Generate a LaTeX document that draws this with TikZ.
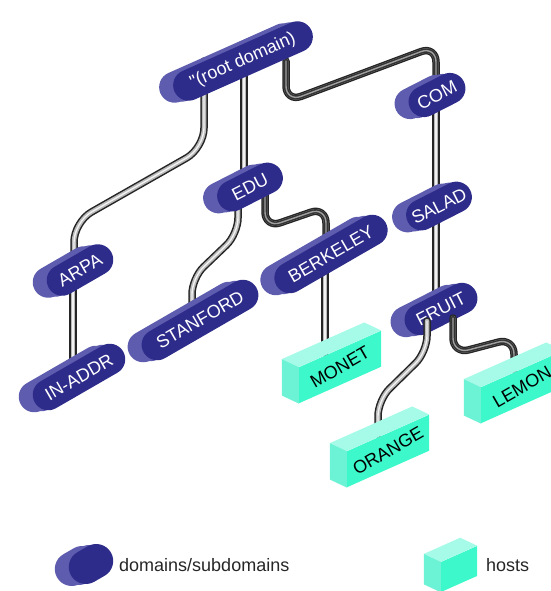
\documentclass[tikz,border=0pt]{standalone}
\usepackage{fontspec}
\newfontfamily\helv{Liberation Sans}
\usetikzlibrary{shapes.misc}
\pgfdeclarelayer{bg}\pgfdeclarelayer{front}\pgfdeclarelayer{top}
\pgfsetlayers{bg,main,front,top}
\definecolor{pillfront}{HTML}{2E2C8A}
\definecolor{pillside}{HTML}{5E5CAE}
\definecolor{hostfront}{HTML}{3CF8CA}
\definecolor{hostleft}{HTML}{6CF2D4}
\definecolor{hosttop}{HTML}{A6FBE8}
\tikzset{
 pill/.style={rounded rectangle, inner sep=0pt, minimum height=31pt, fill=pillfront, text=white,
   font=\helv\fontsize{18}{18}\selectfont,
   preaction={fill=pillside, transform canvas={shift={(-14,2)}}},
   preaction={fill=pillside, transform canvas={shift={(-7,1)}}}},
 hostface/.style={rectangle, inner sep=0pt, minimum width=82pt, minimum height=36pt, fill=hostfront,
   yslant=0.445},
 hostlabel/.style={rotate=30, inner sep=0pt, text=black, font=\helv\fontsize{18}{18}\selectfont},
 pipe/.style={line width=7.5pt, draw=black!85, line cap=round, line join=round, rounded corners=16pt,
   postaction={draw=gray!55, line width=4.5pt}, postaction={draw=white!90!gray, line width=1.4pt}},
 darkpipe/.style={pipe, postaction={draw=black!80, line width=4.5pt}, postaction={draw=gray!75, line width=1.4pt}},
 legendtext/.style={anchor=west, inner sep=0pt, text=black!85, font=\helv\fontsize{18}{18}\selectfont},
}
\newcommand\hostdepth[1]{%
 \fill[hosttop] (#1.north west) -- (#1.north east) -- ++(-17,-8) -- ([shift={(-17,-8)}]#1.north west) -- cycle;
 \fill[hostleft] (#1.north west) -- (#1.south west) -- ++(-17,-8) -- ([shift={(-17,-8)}]#1.north west) -- cycle;}
\begin{document}
\begin{tikzpicture}[x=1pt,y=-1pt]
\useasboundingbox (0,0) rectangle (550,591);
% domains
\node[pill, rotate=24, minimum width=150pt] (root) at (243,61) {"(root domain)};
\node[pill, rotate=27, minimum width=60pt] (com) at (437,95) {COM};
\node[pill, rotate=27, minimum width=70pt] (edu) at (250,187) {EDU};
\node[pill, rotate=27, minimum width=70pt] (salad) at (439,206) {SALAD};
\node[pill, rotate=30, minimum width=72pt] (arpa) at (80,270) {ARPA};
\node[pill, rotate=30, minimum width=126pt] (berkeley) at (331,254) {BERKELEY};
\node[pill, rotate=30, minimum width=130pt] (stanford) at (200,320) {STANFORD};
\node[pill, rotate=27, minimum width=78pt] (fruit) at (441,309) {FRUIT};
\node[pill, rotate=30, minimum width=102pt] (inaddr) at (79,377) {IN-ADDR};
\node[pill, rotate=30, minimum width=46pt, minimum height=34pt] (legpill) at (91,564) {};
% hosts
\begin{pgfonlayer}{top}
\node[hostface] (monet) at (340,367) {};
\hostdepth{monet}
\node[hostlabel] (monetlabel) at (monet.center) {MONET};
\node[hostface] (lemon) at (522,387) {};
\hostdepth{lemon}
\node[hostlabel] (lemonlabel) at (lemon.center) {LEMON};
\node[hostface] (orange) at (388,451) {};
\hostdepth{orange}
\node[hostlabel] (orangelabel) at (orange.center) {ORANGE};
\node[hostface, minimum width=36pt, minimum height=30pt] (leghost) at (459,569) {};
\hostdepth{leghost}
\end{pgfonlayer}
% legend texts
\node[legendtext] (legd) at (119,565) {domains/subdomains};
\node[legendtext] (legh) at (486,565) {hosts};
% connectors behind
\begin{pgfonlayer}{bg}
\draw[darkpipe] ([shift={(43,0)}]root.center) -- (286,102) -- (436,46) -- ([shift={(-1,0)}]com.center);
\draw[pipe] ([shift={(1,0)}]root.center) -- ([shift={(-6,0)}]edu.center);
\draw[pipe, rounded corners=20pt] ([shift={(-39,0)}]root.center) -- (204,148) -- (74,222) -- ([shift={(-6,0)}]arpa.center);
\draw[pipe] ([shift={(-12,0)}]edu.center) -- (238,234) -- (192,278) -- ([shift={(-8,0)}]stanford.center);
\draw[darkpipe] ([shift={(15,0)}]edu.center) -- (265,228) -- (326,207) -- ([shift={(-5,0)}]berkeley.center);
\draw[pipe] ([shift={(-6,0)}]berkeley.center) -- ([shift={(-15,-14)}]monet.center);
\draw[pipe] ([shift={(-1,0)}]com.center) -- ([shift={(-3,0)}]salad.center);
\draw[pipe] ([shift={(-3,0)}]salad.center) -- ([shift={(-5,0)}]fruit.center);
\draw[pipe] ([shift={(-7,0)}]arpa.center) -- ([shift={(-6,0)}]inaddr.center);
\end{pgfonlayer}
% connectors in front of FRUIT
\begin{pgfonlayer}{front}
\draw[pipe] ([shift={(-14,12)}]fruit.center) -- (427,352) -- (378,400) -- ([shift={(-10,-17)}]orange.center);
\draw[darkpipe] ([shift={(12,9)}]fruit.center) -- (453,354) -- (514,338) -- ([shift={(-8,-18)}]lemon.center);
\end{pgfonlayer}
\end{tikzpicture}
\end{document}
